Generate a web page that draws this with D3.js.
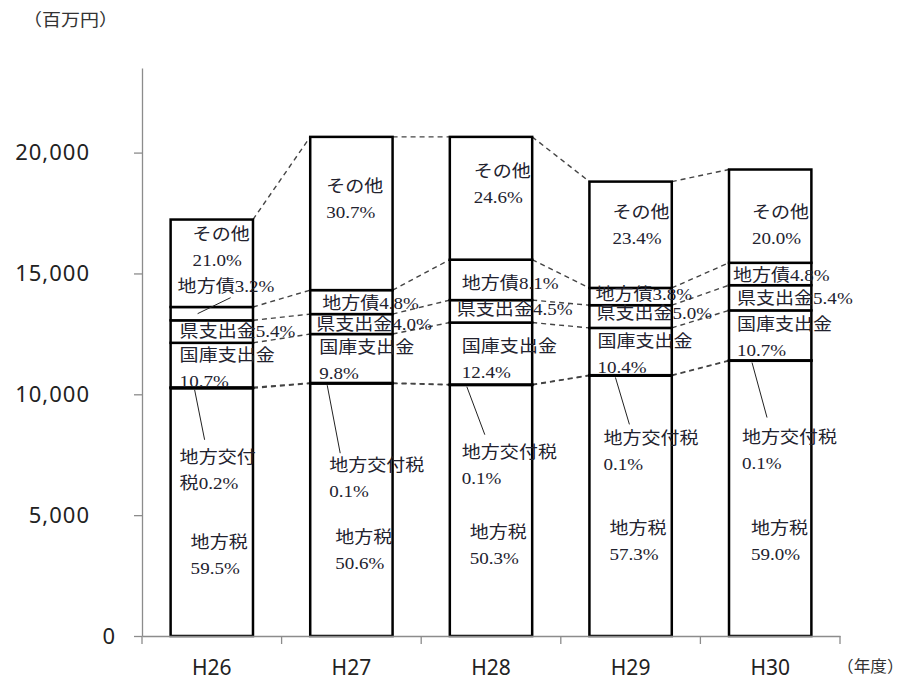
<!DOCTYPE html>
<html>
<head>
<meta charset="utf-8">
<script src="https://cdn.jsdelivr.net/npm/d3@7"></script>
<style>
body { margin:0; background:#fff; }
</style>
</head>
<body>
<div class="chart"></div>
<script>
/* DATA */

const years = ["H26", "H27", "H28", "H29", "H30"];
const items = ["地方税", "地方交付税", "国庫支出金", "県支出金", "地方債", "その他"];

// total revenue (百万円)
const totals = [17230, 20650, 20650, 18800, 19300];

// share of each item (%), as printed in the labels
const pctChihozei = [59.5, 50.6, 50.3, 57.3, 59.0];
const pctKofuzei  = [0.2, 0.1, 0.1, 0.1, 0.1];
const pctKokko    = [10.7, 9.8, 12.4, 10.4, 10.7];
const pctKen      = [5.4, 4.0, 4.5, 5.0, 5.4];
const pctChihosai = [3.2, 4.8, 8.1, 3.8, 4.8];
const pctSonota   = [21.0, 30.7, 24.6, 23.4, 20.0];

const yTicks = [0, 5000, 10000, 15000, 20000];

/* LAYOUT (label placement, px from bar left / segment middle) */

const labelDx = [
    [20, 25, 20, 20, 22],
    [9, 19, 12, 14, 13],
    [9, 9, 12, 8, 8],
    [9, 6, 7, 7, 8],
    [7, 12, 12, 6, 4],
    [22, 16, 24, 23, 23]
];
const labelDy = [
    [30, 28, 22, 23, 30],
    [70, 82, 68, 63, 77],
    [-10, -11, -7, -10, -11],
    [0, 0, -2, -3, 1],
    [-27, 1, 3, -2, 1],
    [-29, -27, -27, -22, -4]
];
const twoLine = [true, true, true, false, false, true];
const kofuSplit = [4, 5, 5, 5, 5];
const leadDx0 = [24, 17, 17, 26, 23];
const leadDx1 = [34, 30, 35, 40, 38];
const leadGap = [18, 12, 18, 14, 20];
const lineGap = 26;

/* CHART */

const width = 909, height = 681;
const labelFont = "'Liberation Serif', 'Noto Sans CJK JP', serif";
const textColor = "#22222e";
const axisColor = "#8c8c8c";

const svg = d3.select(".chart").append("svg")
    .attr("width", width)
    .attr("height", height);

const xScale = d3.scaleBand()
    .domain(years)
    .range([142, 840])
    .paddingInner(0.41)
    .paddingOuter(0.205);

const yScale = d3.scaleLinear()
    .domain([0, 23500])
    .range([636, 68]);

const bw = xScale.bandwidth();

// stack the values
const pctByItem = [pctChihozei, pctKofuzei, pctKokko, pctKen, pctChihosai, pctSonota];
const rows = years.map((yr, i) => {
    const r = {year: yr};
    items.forEach((it, k) => r[it] = totals[i] * pctByItem[k][i] / 100);
    return r;
});
const series = d3.stack().keys(items)(rows);

// dashed connectors between neighbouring bars
const conn = [];
series.forEach(s => {
    for (let i = 0; i < years.length - 1; i++) {
        conn.push({x1: xScale(years[i]) + bw, y1: yScale(s[i][1]),
                   x2: xScale(years[i + 1]), y2: yScale(s[i + 1][1])});
    }
});
svg.append("g").selectAll("line").data(conn).join("line")
    .attr("x1", d => d.x1).attr("y1", d => d.y1)
    .attr("x2", d => d.x2).attr("y2", d => d.y2)
    .attr("stroke", "#444")
    .attr("stroke-width", 1.4)
    .attr("stroke-dasharray", "5,4");

// bars
svg.append("g").selectAll("g").data(series).join("g")
    .selectAll("rect").data(d => d).join("rect")
    .attr("x", d => xScale(d.data.year))
    .attr("y", d => yScale(d[1]))
    .attr("width", bw)
    .attr("height", d => yScale(d[0]) - yScale(d[1]))
    .attr("fill", "#fff")
    .attr("stroke", "#000")
    .attr("stroke-width", 2.5);

// leader lines
const leaders = svg.append("g").attr("stroke", "#222").attr("stroke-width", 1);
years.forEach((yr, i) => {
    const bx = xScale(yr);
    const seg = series[1][i];
    const yc = yScale((seg[0] + seg[1]) / 2);
    leaders.append("line")
        .attr("x1", bx + leadDx0[i]).attr("y1", yc + 2)
        .attr("x2", bx + leadDx1[i]).attr("y2", yc + labelDy[1][i] - leadGap[i]);
});
{
    // H26 地方債 pointer
    const seg = series[4][0];
    const yc = yScale((seg[0] + seg[1]) / 2);
    leaders.append("line")
        .attr("x1", xScale(years[0]) + 27).attr("y1", yc)
        .attr("x2", xScale(years[0]) + 60).attr("y2", yc + labelDy[4][0] + 11);
}

// segment labels
const labels = svg.append("g")
    .attr("font-family", labelFont)
    .attr("font-size", 17)
    .attr("fill", textColor);

series.forEach((s, k) => {
    s.forEach((seg, i) => {
        const pct = pctByItem[k][i].toFixed(1) + "%";
        const name = items[k];
        let lines;
        if (k === 1) {
            lines = [name.slice(0, kofuSplit[i]), name.slice(kofuSplit[i]) + pct];
        } else if (twoLine[k]) {
            lines = [name, pct];
        } else {
            lines = [name + pct];
        }
        const x = xScale(years[i]) + labelDx[k][i];
        const y = yScale((seg[0] + seg[1]) / 2) + labelDy[k][i];
        lines.forEach((t, j) => {
            labels.append("text")
                .attr("transform", `translate(${x},${y + j * lineGap}) scale(1.12,1)`)
                .attr("dominant-baseline", "central")
                .text(t);
        });
    });
});

// y axis
const yAxis = svg.append("g")
    .attr("transform", "translate(142,0)")
    .call(d3.axisLeft(yScale)
        .tickValues(yTicks)
        .tickSize(8)
        .tickSizeOuter(0)
        .tickPadding(44)
        .tickFormat(d3.format(",")));
yAxis.select(".domain").attr("stroke", axisColor).attr("stroke-width", 1.3);
yAxis.selectAll(".tick line").attr("stroke", axisColor).attr("stroke-width", 1.3);
yAxis.selectAll(".tick text")
    .attr("font-family", "'Noto Sans', sans-serif")
    .attr("font-size", 22)
    .attr("letter-spacing", 1)
    .attr("fill", "#222");
yAxis.selectAll(".tick text").filter(d => d === 0).attr("x", -26);

// x axis
const xAxis = svg.append("g")
    .attr("transform", "translate(0,636)")
    .call(d3.axisBottom(xScale).tickSize(0).tickSizeOuter(0));
xAxis.select(".domain").attr("stroke", axisColor).attr("stroke-width", 1.3);
xAxis.selectAll(".tick text")
    .attr("y", 32)
    .attr("dy", "0.35em")
    .attr("font-family", "'Noto Sans', sans-serif")
    .attr("font-size", 21)
    .attr("fill", "#222");

// category boundary ticks
const r0 = xScale.range()[0];
svg.append("g").selectAll("line").data(d3.range(years.length + 1)).join("line")
    .attr("x1", d => r0 + d * xScale.step())
    .attr("x2", d => r0 + d * xScale.step())
    .attr("y1", 636).attr("y2", 644)
    .attr("stroke", axisColor)
    .attr("stroke-width", 1.3);

// unit labels
svg.append("text")
    .attr("transform", "translate(23,18) scale(1.12,1)")
    .attr("dominant-baseline", "central")
    .attr("font-family", "'Noto Sans CJK JP', sans-serif")
    .attr("font-size", 17)
    .attr("fill", "#333")
    .text("（百万円）");

svg.append("text")
    .attr("transform", "translate(837,665) scale(1.04,1)")
    .attr("dominant-baseline", "central")
    .attr("font-family", "'Noto Sans CJK JP', sans-serif")
    .attr("font-size", 16)
    .attr("fill", "#333")
    .text("（年度）");
</script>
</body>
</html>
